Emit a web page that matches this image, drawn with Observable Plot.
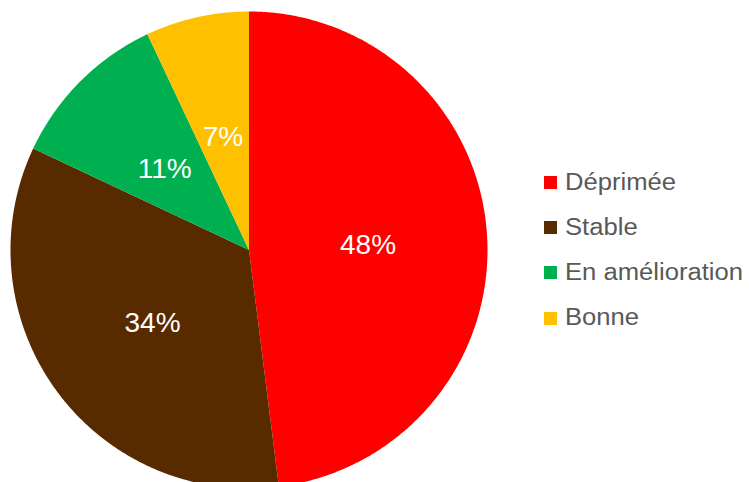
<!DOCTYPE html>
<html>
<head>
<meta charset="utf-8">
<script src="https://cdn.jsdelivr.net/npm/d3@7"></script>
<script src="https://cdn.jsdelivr.net/npm/@observablehq/plot@0.6"></script>
<style>
  html, body { margin: 0; padding: 0; background: #fff; }
  #wrap { position: relative; width: 749px; height: 482px; overflow: hidden; font-family: "Liberation Sans", Arial, sans-serif; }
  #legend { position: absolute; left: 544px; top: 160px; }
  .row { display: flex; align-items: center; height: 45.2px; }
  .sw { width: 13px; height: 13px; margin-right: 8px; flex: none; }
  .lbl { font-size: 23.5px; color: #595959; line-height: 1; white-space: nowrap; transform: scaleX(1.09); transform-origin: 0 50%; }
</style>
</head>
<body>
<div id="wrap"><div id="legend"></div></div>
<script>
const categories = ["Déprimée", "Stable", "En amélioration", "Bonne"];
const values = [48, 34, 11, 7];
const valueLabels = ["48%", "34%", "11%", "7%"];
const colors = ["#FF0000", "#582A00", "#00B050", "#FFC000"];

// Pie geometry derived from the values (d3.pie), clockwise from 12 o'clock
const arcs = d3.pie().sort(null)(values);
const outline = [];
const labelPos = [];
arcs.forEach((a, i) => {
  const cat = categories[i];
  outline.push({cat, x: 0, y: 0});
  const n = Math.max(2, Math.ceil((a.endAngle - a.startAngle) / (Math.PI / 360)));
  for (let k = 0; k <= n; k++) {
    const t = a.startAngle + (a.endAngle - a.startAngle) * k / n;
    outline.push({cat, x: Math.sin(t), y: -Math.cos(t)});
  }
  const m = (a.startAngle + a.endAngle) / 2;
  labelPos.push({cat, text: valueLabels[i], x: 0.5 * Math.sin(m), y: -0.5 * Math.cos(m)});
});

const chart = Plot.plot({
  width: 749,
  height: 482,
  margin: 0,
  style: {fontFamily: "'Liberation Sans', Arial, sans-serif", background: "white"},
  x: {domain: [-1, 1], range: [10, 487], axis: null},
  y: {domain: [-1, 1], range: [11, 488], axis: null},
  color: {domain: categories, range: colors},
  marks: [
    Plot.line(outline, {x: "x", y: "y", z: "cat", fill: "cat", stroke: "none"}),
    Plot.text(labelPos, {x: "x", y: "y", text: "text", fill: "white", fontSize: 28, dy: 3})
  ]
});
const wrap = document.getElementById("wrap");
wrap.insertBefore(chart, wrap.firstChild);

const legend = document.getElementById("legend");
categories.forEach((c, i) => {
  const row = document.createElement("div");
  row.className = "row";
  const sw = document.createElement("div");
  sw.className = "sw";
  sw.style.background = colors[i];
  const lb = document.createElement("div");
  lb.className = "lbl";
  lb.textContent = c;
  row.appendChild(sw);
  row.appendChild(lb);
  legend.appendChild(row);
});
</script>
</body>
</html>
